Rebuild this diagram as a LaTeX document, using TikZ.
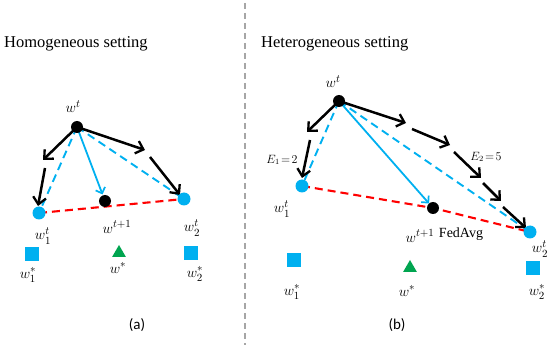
\documentclass[tikz,border=0pt]{standalone}
\usepackage{amsmath}
\usepackage{fontspec}
\setmainfont{Liberation Serif}
\newfontfamily\capfont{Carlito}
\usetikzlibrary{arrows.meta}
\definecolor{skyb}{HTML}{00B0F0}
\definecolor{leafg}{HTML}{00A550}
\definecolor{divg}{HTML}{A6A6A6}
\tikzset{
  blk/.style={line width=2.5pt, black, -{Straight Barb[length=7pt,width=13pt,line width=2.3pt]}},
  bluearr/.style={line width=1.8pt, skyb, -{Straight Barb[length=5pt,width=10pt,line width=1.7pt]}},
  bluedash/.style={line width=1.9pt, skyb, dash pattern=on 8pt off 5pt},
  reddash/.style={line width=2.1pt, red, dash pattern=on 8pt off 5pt},
  bdot/.style={circle, fill=black, inner sep=0pt, minimum size=12pt},
  cdot/.style={circle, fill=skyb, inner sep=0pt, minimum size=13pt},
  sqmark/.style={rectangle, fill=skyb, inner sep=0pt, minimum size=14pt},
  trimark/.style={isosceles triangle, isosceles triangle apex angle=60, shape border rotate=90, fill=leafg, inner sep=0pt, minimum height=12pt},
  lab/.style={inner sep=0pt, font=\fontsize{15}{15}\selectfont},
  elab/.style={inner sep=0pt, font=\fontsize{11.5}{11.5}\selectfont},
  ttl/.style={inner sep=0pt, anchor=base west, font=\fontsize{16.5}{16.5}\selectfont},
}
\usetikzlibrary{shapes.geometric}
\begin{document}
\begin{tikzpicture}[x=1pt,y=-1pt]
	\useasboundingbox (0,0) rectangle (550,345);
	\draw[divg, line width=1.2pt, dash pattern=on 6pt off 4pt] (245,3) -- (245,345);
	% titles
	\node[ttl] (ttla) at (4,48) {Homogeneous setting};
	\node[ttl] (ttlb) at (261,48) {Heterogeneous setting};
	\node[font=\capfont\fontsize{15}{15}\selectfont] (capa) at (137,325) {(a)};
	\node[font=\capfont\fontsize{15}{15}\selectfont] (capb) at (397,325) {(b)};

	% (a) homogeneous
	\coordinate (wt) at (77,127);
	\coordinate (wa) at (39,213);
	\coordinate (wb) at (184,199);
	\coordinate (wn) at (105,201);
	\coordinate (a1) at (43,160);
	\coordinate (a2) at (45,168);
	\coordinate (a3) at (38,206);
	\coordinate (b1) at (145,150);
	\coordinate (b2) at (150,157);
	\coordinate (b3) at (180,195);
	\draw[bluedash] (wt) -- (wa);
	\draw[bluedash] (wt) -- (wb);
	\draw[reddash] (wa) -- (wb);
	\draw[bluearr, shorten >=7pt] (wt) -- (wn);
	\draw[blk] (wt) -- (a1);
	\draw[blk] (a2) -- (a3);
	\draw[blk] (wt) -- (b1);
	\draw[blk] (b2) -- (b3);
	\node[cdot] (wadot) at (wa) {};
	\node[cdot] (wbdot) at (wb) {};
	\node[bdot] (wndot) at (wn) {};
	\node[bdot] (wtdot) at (wt) {};
	\node[sqmark] (sqa) at (32,254) {};
	\node[sqmark] (sqb) at (191,253) {};
	\node[trimark] (tria) at (119,253) {};
	\node[lab] (lwt) at (73,107) {$w^{t}$};
	\node[lab] (lwa) at (43,236) {$w_1^{t}$};
	\node[lab] (lwn) at (117,227) {$w^{t+1}$};
	\node[lab] (lwb) at (192,228) {$w_2^{t}$};
	\node[lab] (lsa) at (28,275) {$w_1^{*}$};
	\node[lab] (lsm) at (118,268) {$w^{*}$};
	\node[lab] (lsb) at (195,274) {$w_2^{*}$};

	% (b) heterogeneous
	\coordinate (vt) at (339,101);
	\coordinate (va) at (302,186);
	\coordinate (vb) at (530,232);
	\coordinate (vn) at (433,208);
	\coordinate (c1) at (307,132);
	\coordinate (c2) at (310,140);
	\coordinate (c3) at (302,178);
	\coordinate (d1) at (406,123);
	\coordinate (d2) at (412,129);
	\coordinate (d3) at (450,145);
	\coordinate (d4) at (454,152);
	\coordinate (d5) at (481,178);
	\coordinate (d6) at (483,183);
	\coordinate (d7) at (501,201);
	\coordinate (d8) at (503,207);
	\coordinate (d9) at (526,228);
	\draw[bluedash] (vt) -- (va);
	\draw[bluedash] (vt) -- (vb);
	\draw[reddash] (va) -- (vn) -- (vb);
	\draw[bluearr, shorten >=6pt] (vt) -- (vn);
	\draw[blk] (vt) -- (c1);
	\draw[blk] (c2) -- (c3);
	\draw[blk] (vt) -- (d1);
	\draw[blk] (d2) -- (d3);
	\draw[blk] (d4) -- (d5);
	\draw[blk] (d6) -- (d7);
	\draw[blk] (d8) -- (d9);
	\node[cdot] (vadot) at (va) {};
	\node[cdot] (vbdot) at (vb) {};
	\node[bdot] (vndot) at (vn) {};
	\node[bdot] (vtdot) at (vt) {};
	\node[sqmark] (sqc) at (294,260) {};
	\node[sqmark] (sqd) at (533,268) {};
	\node[trimark] (trib) at (410,268) {};
	\node[lab] (lvt) at (333,82) {$w^{t}$};
	\node[lab] (lva) at (282,209) {$w_1^{t}$};
	\node[lab] (lvn) at (420,236) {$w^{t+1}$};
	\node[inner sep=0pt, font=\fontsize{14}{14}\selectfont] (fedavg) at (461,234) {FedAvg};
	\node[lab] (lvb) at (540,249) {$w_2^{t}$};
	\node[lab] (lsc) at (292,292) {$w_1^{*}$};
	\node[lab] (lsn) at (407,291) {$w^{*}$};
	\node[lab] (lsd) at (537,292) {$w_2^{*}$};
	\node[elab] (ea) at (282,160) {$E_1\!=\!2$};
	\node[elab] (eb) at (486,157) {$E_2\!=\!5$};
\end{tikzpicture}
\end{document}
